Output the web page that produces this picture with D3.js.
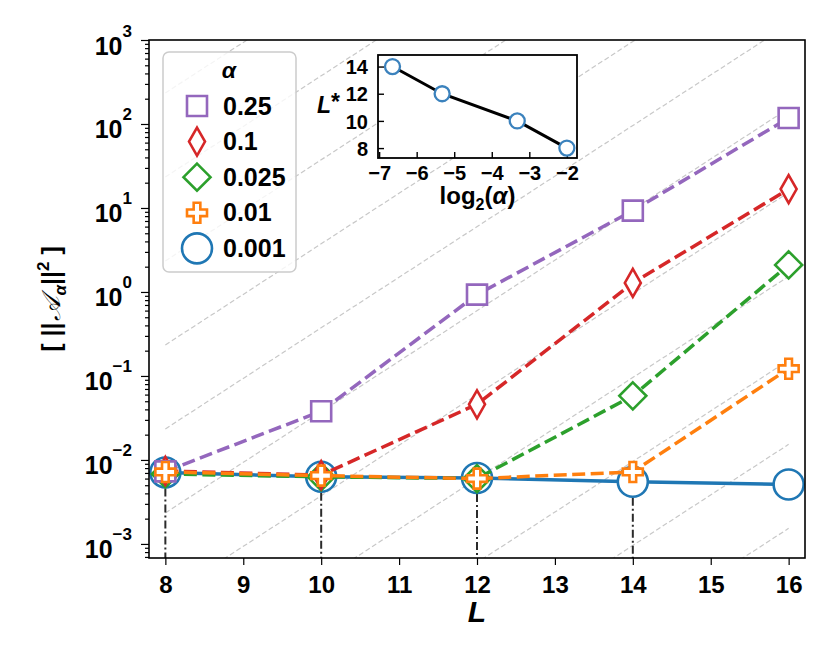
<!DOCTYPE html>
<html>
<head>
<meta charset="utf-8">
<script src="https://cdn.jsdelivr.net/npm/d3@7"></script>
<style>
body { margin: 0; background: #fff; }
svg text { font-family: "Liberation Sans", Arial, sans-serif; font-weight: bold; fill: #000; }
</style>
</head>
<body>
<div id="chart"></div>
<script>
// circuit depths on the x axis
var depths = [8, 10, 12, 14, 16];
// legend labels (alpha)
var alphaLabels = ["0.25", "0.1", "0.025", "0.01", "0.001"];
// E[||A_alpha||^2] per alpha
var normAlpha025 = [0.0073, 0.038, 0.93, 9.3, 118];
var normAlpha01 = [0.0074, 0.0066, 0.046, 1.28, 16.8];
var normAlpha0025 = [0.0068, 0.0063, 0.0060, 0.058, 2.1];
var normAlpha001 = [0.0072, 0.0065, 0.0060, 0.0072, 0.122];
var normAlpha0001 = [0.0071, 0.0063, 0.0061, 0.0055, 0.0051];
// depths where the dash-dot markers drop to the axis
var criticalDepths = [8, 10, 12, 14];
// inset: alpha vs L*
var insetAlphas = [0.01, 0.025, 0.1, 0.25];
var insetLstar = [14, 12, 10, 8];
// guide lines ~ 4^L, value at L = 8
var guideStarts = [234, 23.4, 2.34, 0.234, 0.0234, 0.00234, 0.000234, 2.34e-5, 2.34e-6, 2.34e-7, 2.34e-8];
// ticks
var xTicks = [8, 9, 10, 11, 12, 13, 14, 15, 16];
var yTickExps = [-3, -2, -1, 0, 1, 2, 3];
var insetXTicks = [-7, -6, -5, -4, -3, -2];
var insetYTicks = [8, 10, 12, 14];

function markerPath(kind) {
    "use strict";
    var b = 10 / 3;
    switch (kind) {
    case "square":
        return "M-10,-10H10V10H-10Z";
    case "thin":
        return "M0,-14L8,0L0,14L-8,0Z";
    case "diamond":
        return "M0,-13.5L13.5,0L0,13.5L-13.5,0Z";
    case "plus":
        return ["M", -b, -10, "H", b, "V", -b, "H", 10, "V", b, "H", b,
            "V", 10, "H", -b, "V", b, "H", -10, "V", -b, "H", -b, "Z"].join(" ");
    default:
        // circle
        return "M15,0A15,15 0 1,1 -15,0A15,15 0 1,1 15,0Z";
    }
}

function drawChart() {
    "use strict";
    var width = 830, height = 664;
    var left = 149, right = 805, top = 40, bottom = 558;

    var svg = d3.select("#chart").append("svg")
        .attr("width", width)
        .attr("height", height);

    var x = d3.scaleLinear().domain([7.79, 16.21]).range([left, right]);
    var y = d3.scaleLog().domain([6.8e-4, 1000]).range([bottom, top]);

    svg.append("clipPath").attr("id", "plotclip")
        .append("rect")
        .attr("x", left).attr("y", top)
        .attr("width", right - left).attr("height", bottom - top);

    var plot = svg.append("g").attr("clip-path", "url(#plotclip)");

    // gray guide lines
    plot.selectAll("line.guide")
        .data(guideStarts)
        .enter()
        .append("line")
        .attr("class", "guide")
        .attr("x1", x(8))
        .attr("y1", function(d) { return y(d); })
        .attr("x2", x(16))
        .attr("y2", function(d) { return y(d * Math.pow(4, 8)); })
        .attr("stroke", "#c8c8c8")
        .attr("stroke-width", 1.2)
        .attr("stroke-dasharray", "5,2.7");

    // dash-dot drops at L*
    plot.selectAll("line.drop")
        .data(criticalDepths)
        .enter()
        .append("line")
        .attr("class", "drop")
        .attr("x1", function(d) { return x(d); })
        .attr("x2", function(d) { return x(d); })
        .attr("y1", function(d) { return y(normAlpha0001[depths.indexOf(d)]); })
        .attr("y2", bottom)
        .attr("stroke", "#2b2b2b")
        .attr("stroke-width", 2)
        .attr("stroke-dasharray", "8,3,2,3");

    var series = [
        {label: alphaLabels[4], values: normAlpha0001, color: "#1f77b4", marker: "circle", dash: null},
        {label: alphaLabels[2], values: normAlpha0025, color: "#2ca02c", marker: "diamond", dash: "13,5.5"},
        {label: alphaLabels[1], values: normAlpha01, color: "#d62728", marker: "thin", dash: "13,5.5"},
        {label: alphaLabels[0], values: normAlpha025, color: "#9467bd", marker: "square", dash: "13,5.5"},
        {label: alphaLabels[3], values: normAlpha001, color: "#ff7f0e", marker: "plus", dash: "13,5.5"}
    ];

    var line = d3.line()
        .x(function(d, i) { return x(depths[i]); })
        .y(function(d) { return y(d); });

    series.forEach(function(s) {
        plot.append("path")
            .attr("d", line(s.values))
            .attr("fill", "none")
            .attr("stroke", s.color)
            .attr("stroke-width", 3.5)
            .attr("stroke-dasharray", s.dash);
        plot.selectAll("path.m-" + s.marker)
            .data(s.values)
            .enter()
            .append("path")
            .attr("class", "m-" + s.marker)
            .attr("d", markerPath(s.marker))
            .attr("transform", function(d, i) {
                return "translate(" + x(depths[i]) + "," + y(d) + ")";
            })
            .attr("fill", "#fff")
            .attr("stroke", s.color)
            .attr("stroke-width", 2.6);
    });

    // axes
    var xAxis = svg.append("g")
        .attr("transform", "translate(0," + bottom + ")")
        .call(d3.axisBottom(x).tickValues(xTicks).tickSize(7).tickSizeOuter(0)
            .tickPadding(4).tickFormat(d3.format("d")));
    xAxis.selectAll("text").attr("font-size", 24).attr("dy", "1em");

    var minors = [];
    d3.range(-4, 3).forEach(function(k) {
        d3.range(2, 10).forEach(function(m) {
            var v = m * Math.pow(10, k);
            if (v > 6.8e-4 && v < 1000) { minors.push(v); }
        });
    });
    svg.append("g")
        .attr("transform", "translate(" + left + ",0)")
        .call(d3.axisLeft(y).tickValues(minors).tickSize(4).tickSizeOuter(0).tickFormat(""));
    var yAxis = svg.append("g")
        .attr("transform", "translate(" + left + ",0)")
        .call(d3.axisLeft(y).tickValues(yTickExps.map(function(e) { return Math.pow(10, e); }))
            .tickSize(8).tickSizeOuter(0).tickFormat(""));
    yAxis.selectAll(".tick").each(function(d) {
        var t = d3.select(this).select("text")
            .attr("x", -17).attr("dy", null).attr("y", 14)
            .attr("text-anchor", "end")
            .attr("font-size", 25);
        var e = Math.round(Math.log10(d));
        t.append("tspan").text("10");
        t.append("tspan").attr("font-size", 17).attr("dy", -18)
            .text(e < 0 ? "\u2212" + (-e) : String(e));
    });
    svg.selectAll(".domain").remove();
    svg.selectAll(".tick line").attr("stroke", "#000").attr("stroke-width", 1.2);

    svg.append("rect")
        .attr("x", left).attr("y", top)
        .attr("width", right - left).attr("height", bottom - top)
        .attr("fill", "none").attr("stroke", "#000").attr("stroke-width", 1.6);

    // axis labels
    svg.append("text")
        .attr("x", (left + right) / 2).attr("y", 622)
        .attr("text-anchor", "middle")
        .attr("font-size", 30).attr("font-style", "italic")
        .text("L");

    var yl = svg.append("text")
        .attr("transform", "translate(60," + ((top + bottom) / 2) + ") rotate(-90)")
        .attr("text-anchor", "middle")
        .attr("font-size", 25);
    yl.append("tspan").text("[ ||");
    yl.append("tspan").attr("font-style", "italic").attr("font-weight", "normal")
        .attr("font-size", 26).attr("dx", 2).text("\uD835\uDC9C");
    yl.append("tspan").attr("font-style", "italic").attr("font-size", 17).attr("dy", 6).text("\u03B1");
    yl.append("tspan").attr("dy", -6).text("||");
    yl.append("tspan").attr("font-size", 17).attr("dy", -11).text("2");
    yl.append("tspan").attr("dy", 11).text(" ]");

    // legend
    var legendOrder = [
        {label: alphaLabels[0], color: "#9467bd", marker: "square"},
        {label: alphaLabels[1], color: "#d62728", marker: "thin"},
        {label: alphaLabels[2], color: "#2ca02c", marker: "diamond"},
        {label: alphaLabels[3], color: "#ff7f0e", marker: "plus"},
        {label: alphaLabels[4], color: "#1f77b4", marker: "circle"}
    ];
    var legend = svg.append("g");
    legend.append("rect")
        .attr("x", 163).attr("y", 52).attr("width", 133).attr("height", 220)
        .attr("rx", 6)
        .attr("fill", "#fff").attr("fill-opacity", 0.8)
        .attr("stroke", "#ccc").attr("stroke-width", 1.5);
    legend.append("text")
        .attr("x", 229).attr("y", 78)
        .attr("text-anchor", "middle")
        .attr("font-size", 23).attr("font-style", "italic")
        .text("\u03B1");
    var rows = legend.selectAll("g.row")
        .data(legendOrder)
        .enter()
        .append("g")
        .attr("class", "row")
        .attr("transform", function(d, i) { return "translate(0," + (106 + i * 35.6) + ")"; });
    rows.append("path")
        .attr("d", function(d) { return markerPath(d.marker); })
        .attr("transform", "translate(197,0)")
        .attr("fill", "#fff")
        .attr("stroke", function(d) { return d.color; })
        .attr("stroke-width", 2.6);
    rows.append("text")
        .attr("x", 223).attr("y", 8.5)
        .attr("font-size", 25)
        .text(function(d) { return d.label; });

    drawInset(svg);
}

function drawInset(svg) {
    "use strict";
    var left = 378, right = 577, top = 55, bottom = 158;
    var ix = d3.scaleLinear().domain([-7.03, -1.73]).range([left, right]);
    var iy = d3.scaleLinear().domain([7.27, 14.85]).range([bottom, top]);
    var g = svg.append("g");

    g.append("rect")
        .attr("x", left).attr("y", top)
        .attr("width", right - left).attr("height", bottom - top)
        .attr("fill", "#fff");

    var xa = g.append("g")
        .attr("transform", "translate(0," + bottom + ")")
        .call(d3.axisBottom(ix).tickValues(insetXTicks).tickSize(-6).tickSizeOuter(0)
            .tickPadding(5).tickFormat(function(d) { return "\u2212" + (-d); }));
    xa.selectAll("text").attr("font-size", 20).attr("dy", "0.85em");
    var ya = g.append("g")
        .attr("transform", "translate(" + left + ",0)")
        .call(d3.axisLeft(iy).tickValues(insetYTicks).tickSize(-6).tickSizeOuter(0)
            .tickPadding(10));
    ya.selectAll("text").attr("font-size", 20).attr("dy", "0.36em");
    g.selectAll(".domain").remove();
    g.selectAll(".tick line").attr("stroke", "#000").attr("stroke-width", 1.4);

    var pts = insetAlphas.map(function(a, i) { return [Math.log2(a), insetLstar[i]]; });
    g.append("path")
        .attr("d", d3.line()
            .x(function(d) { return ix(d[0]); })
            .y(function(d) { return iy(d[1]); })(pts))
        .attr("fill", "none").attr("stroke", "#000").attr("stroke-width", 3);
    g.selectAll("circle.pt")
        .data(pts)
        .enter()
        .append("circle")
        .attr("class", "pt")
        .attr("cx", function(d) { return ix(d[0]); })
        .attr("cy", function(d) { return iy(d[1]); })
        .attr("r", 7.5)
        .attr("fill", "#fff").attr("stroke", "#3b82bd").attr("stroke-width", 2.3);

    g.append("rect")
        .attr("x", left).attr("y", top)
        .attr("width", right - left).attr("height", bottom - top)
        .attr("fill", "none").attr("stroke", "#000").attr("stroke-width", 1.8);

    var lab = g.append("text")
        .attr("x", 317).attr("y", 113)
        .attr("font-size", 23);
    lab.append("tspan").attr("font-style", "italic").text("L");
    lab.append("tspan").attr("dy", -3).text("*");

    var xl = g.append("text")
        .attr("x", (left + right) / 2).attr("y", 204)
        .attr("text-anchor", "middle")
        .attr("font-size", 24);
    xl.append("tspan").text("log");
    xl.append("tspan").attr("font-size", 16).attr("dy", 6).text("2");
    xl.append("tspan").attr("dy", -6).text("(");
    xl.append("tspan").attr("font-style", "italic").text("\u03B1");
    xl.append("tspan").text(")");
}

drawChart();
</script>
</body>
</html>
